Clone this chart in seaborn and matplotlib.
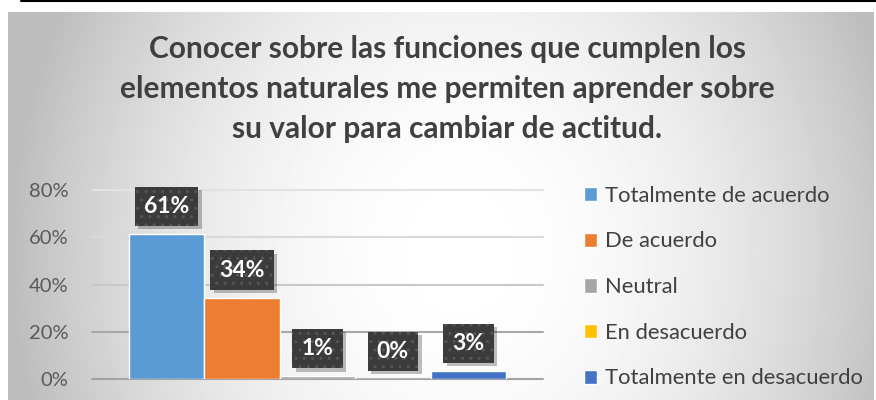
import numpy as np
import matplotlib
matplotlib.use("Agg")
import matplotlib.pyplot as plt
import matplotlib.patheffects as pe
import matplotlib.transforms as mtransforms
import seaborn as sns
from matplotlib.lines import Line2D
from matplotlib.ticker import PercentFormatter

# =============================================================================
# Data
# =============================================================================
TITLE = ("Conocer sobre las funciones que cumplen los\n"
         "elementos naturales me permiten aprender sobre\n"
         "su valor para cambiar de actitud.")
categories = ["Totalmente de acuerdo", "De acuerdo", "Neutral",
              "En desacuerdo", "Totalmente en desacuerdo"]
values = [0.614, 0.344, 0.012, 0.0, 0.034]
bar_colors = ["#5b9bd5", "#ed7d31", "#a5a5a5", "#ffc000", "#4472c4"]
yticks = [0.0, 0.2, 0.4, 0.6, 0.8]
grid_colors = ["#a3a3a3", "#a8a8a8", "#c9c9c9", "#d9d9d9", "#e2e2e2"]


class BoxShadow(pe.AbstractPathEffect):
    """Plain soft shadow under a label box (ignores the box hatch)."""

    def __init__(self, dx=2.5, dy=-2.5, alpha=0.25):
        super().__init__()
        self.dx, self.dy, self.alpha = dx, dy, alpha

    def draw_path(self, renderer, gc, tpath, affine, rgbFace=None):
        gc0 = renderer.new_gc()
        gc0.copy_properties(gc)
        gc0.set_hatch(None)
        gc0.set_linewidth(0)
        gc0.set_alpha(self.alpha)
        shift = mtransforms.Affine2D().translate(
            renderer.points_to_pixels(self.dx), renderer.points_to_pixels(self.dy))
        renderer.draw_path(gc0, tpath, affine + shift, (0, 0, 0))
        gc0.restore()


# =============================================================================
# Figure
# =============================================================================
sns.set_theme(style="white")
plt.rcParams["font.family"] = ["Lato", "DejaVu Sans"]

W, H = 876, 400
fig = plt.figure(figsize=(W / 100, H / 100), dpi=100)
fig.patch.set_facecolor("white")

# --- radial grey background of the chart area ---
bg = fig.add_axes([0, 0, 1, 1], zorder=-10)
yy, xx = np.mgrid[0:H, 0:W]
r2 = ((xx - 460) / 450.0) ** 2 + ((yy - 250) / 520.0) ** 2
shade = 1 - 0.26 * np.clip(r2, 0, 1)
shade[(xx < 8) | (yy < 12) | (xx > 873)] = 1.0
bg.imshow(shade, cmap="gray", vmin=0, vmax=1, extent=(0, W, H, 0),
          aspect="auto", interpolation="bilinear")
bg.set_xlim(0, W)
bg.set_ylim(H, 0)
bg.axis("off")
fig.add_artist(Line2D([21 / W, 1], [1 - 1 / H, 1 - 1 / H],
                      transform=fig.transFigure, color="black", lw=1.5))

# --- bars ---
ax = fig.add_axes([92 / W, 1 - 379 / H, 451 / W, (379 - 190) / H])
ax.set_facecolor("none")
sns.barplot(x=categories, y=values, hue=categories, order=categories,
            hue_order=categories, palette=bar_colors, saturation=1,
            width=1.0, ax=ax, legend=True, zorder=3)
ax.set_xlim(-0.99, 4.99)
ax.set_ylim(0, 0.8)
ax.set_yticks(yticks)
ax.yaxis.set_major_formatter(PercentFormatter(1.0, decimals=0))
ax.set_xticks([])
ax.set_xlabel("")
ax.set_ylabel("")
for s in ax.spines.values():
    s.set_visible(False)
ax.tick_params(axis="y", length=0, pad=17, labelsize=14.5, labelcolor="#595959")
ax.grid(axis="y", lw=1.5, zorder=0)
for line, c in zip(ax.get_ygridlines(), grid_colors):
    line.set_color(c)
    line.set_clip_on(False)

# --- data labels (dark dotted boxes with a soft shadow) ---
for i, v in enumerate(values):
    t = ax.annotate(f"{v:.0%}", xy=(i, v), xytext=(0, 12.4),
                    textcoords="offset points", ha="center", va="bottom",
                    fontsize=16.5, fontweight="bold", color="white", zorder=5,
                    bbox=dict(boxstyle="square,pad=0.4", fc="#3b3b3b",
                              ec="#565656", lw=0, hatch=".."))
    t.get_bbox_patch().set_path_effects([BoxShadow(), pe.Normal()])

# --- legend ---
handles, labels = ax.get_legend_handles_labels()
ax.legend(handles, labels, loc="upper left",
          bbox_to_anchor=(575 / W, 1 - 177 / H), bbox_transform=fig.transFigure,
          frameon=False, fontsize=15.8, labelcolor="#404040",
          handlelength=0.62, handleheight=0.62, handletextpad=0.35,
          labelspacing=1.17, borderaxespad=0)

# --- title ---
fig.text(447 / W, 1 - 89 / H, TITLE, ha="center", va="center",
         multialignment="center", fontsize=21.5, fontweight="bold",
         color="#404040", linespacing=1.53)

fig.savefig("out.png", dpi=100)
